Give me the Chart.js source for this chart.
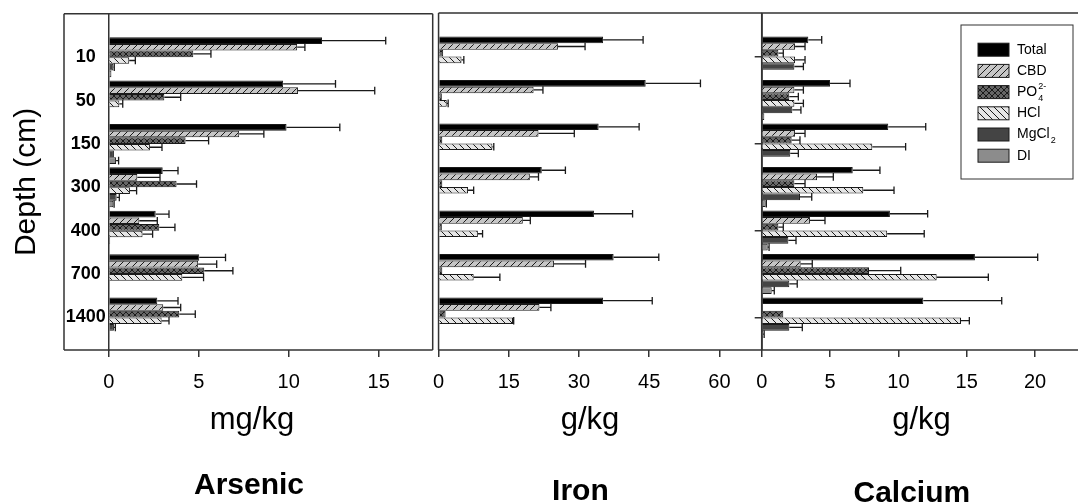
<!DOCTYPE html>
<html lang="en">
<head>
    <meta charset="UTF-8">
    <title>Arsenic, iron and calcium fractions by depth</title>
    <script src="https://cdn.jsdelivr.net/npm/chart.js"></script>
    <style>
        html, body { margin: 0; padding: 0; background: #fff; overflow: hidden; }
        .panels { position: relative; width: 1078px; height: 504px; }
        .panels canvas { position: absolute; top: 0; }
        #arsenicChart { left: 0; }
        #ironChart { left: 420px; }
        #calciumChart { left: 740px; }
    </style>
</head>
<body>
    <div class="panels">
        <canvas id="arsenicChart" width="434" height="504"></canvas>
        <canvas id="ironChart" width="343" height="504"></canvas>
        <canvas id="calciumChart" width="338" height="504"></canvas>
    </div>

    <script>
        const depths = ['10', '50', '150', '300', '400', '700', '1400'];
        const seriesNames = ['Total', 'CBD', 'PO₄²⁻', 'HCl', 'MgCl₂', 'DI'];
        // legend text split as base, subscript, superscript
        const legendParts = [['Total'], ['CBD'], ['PO', '4', '2-'], ['HCl'], ['MgCl', '2'], ['DI']];
        const calciumTickDepths = ['50', '300', '700'];

        // rows follow seriesNames, columns follow depths
        const arsenicMean = [
            [11.85, 9.69, 9.88, 3.0, 2.61, 5.03, 2.7],
            [10.47, 10.52, 7.25, 1.59, 1.7, 4.97, 3.03],
            [4.7, 3.09, 4.27, 3.77, 2.81, 5.31, 3.92],
            [1.14, 0.59, 2.29, 1.18, 1.88, 4.09, 2.94],
            [0.26, 0.05, 0.29, 0.44, 0.08, 0.05, 0.29],
            [0.15, 0.05, 0.41, 0.26, 0.05, 0.05, 0.05]
        ];
        const arsenicErr = [
            [3.54, 2.91, 2.96, 0.85, 0.74, 1.46, 1.15],
            [0.43, 4.26, 1.37, 1.26, 1.0, 1.03, 0.97],
            [0.98, 0.91, 1.28, 1.11, 0.87, 1.59, 0.89],
            [0.34, 0.19, 0.67, 0.37, 0.56, 1.18, 0.41],
            [0.05, 0, 0, 0.15, 0, 0, 0.08],
            [0, 0, 0.14, 0.04, 0, 0, 0]
        ];

        const ironMean = [
            [35.15, 44.25, 34.2, 22.05, 33.2, 37.4, 35.15],
            [25.5, 20.3, 21.35, 19.5, 18.0, 24.65, 21.55],
            [0.98, 0.7, 0.8, 0.8, 0.7, 0.8, 1.5],
            [4.9, 1.75, 11.5, 6.3, 8.4, 7.5, 15.9],
            [0, 0, 0, 0, 0, 0, 0],
            [0, 0, 0, 0, 0, 0, 0]
        ];
        const ironErr = [
            [8.55, 11.7, 8.65, 5.05, 8.25, 9.65, 10.5],
            [5.8, 2.0, 7.65, 1.85, 1.6, 6.75, 2.45],
            [0, 0, 0, 0, 0, 0, 0],
            [0.5, 0.3, 0.3, 1.2, 1.0, 5.6, 0.15],
            [0, 0, 0, 0, 0, 0, 0],
            [0, 0, 0, 0, 0, 0, 0]
        ];

        const calciumMean = [
            [3.41, 5.0, 9.26, 6.66, 9.38, 15.6, 11.82],
            [2.44, 2.39, 2.44, 4.05, 3.53, 2.85, 0],
            [1.22, 2.02, 2.19, 2.39, 1.22, 7.85, 1.58],
            [2.44, 2.39, 8.09, 7.43, 9.18, 12.8, 14.58],
            [2.39, 2.24, 2.09, 2.8, 1.95, 2.02, 2.02],
            [0, 0.19, 0, 0.29, 0.44, 0.73, 0.1]
        ];
        const calciumErr = [
            [0.98, 1.46, 2.74, 1.99, 2.76, 4.59, 5.74],
            [0.73, 0.66, 0.73, 1.19, 1.1, 0.85, 0],
            [0.36, 0.66, 0.61, 0.78, 0.36, 2.32, 0],
            [0.73, 0.66, 2.44, 2.25, 2.71, 3.78, 0.61],
            [0.66, 0.63, 0.59, 0.86, 0.56, 0.58, 0.95],
            [0, 0, 0, 0.05, 0.1, 0.19, 0.08]
        ];

        const FONT = 'Arial, "Liberation Sans", Helvetica, sans-serif';
        const LINE = '#333';

        // small hatch tiles for the patterned bars
        function hatch(bg, kind, size) {
            const c = document.createElement('canvas');
            c.width = c.height = size;
            const g = c.getContext('2d');
            g.fillStyle = bg;
            g.fillRect(0, 0, size, size);
            g.strokeStyle = '#1a1a1a';
            g.lineWidth = 1;
            g.beginPath();
            for (const k of [-size, 0, size]) {
                if (kind !== '\\') { g.moveTo(k, size); g.lineTo(k + size, 0); }
                if (kind !== '/') { g.moveTo(k, 0); g.lineTo(k + size, size); }
            }
            g.stroke();
            return g.createPattern(c, 'repeat');
        }

        const seriesFills = [
            '#000000',
            hatch('#c6c6c6', '/', 7),
            hatch('#666666', 'x', 6),
            hatch('#e6e6e6', '\\', 7),
            '#444444',
            '#8c8c8c'
        ];

        function buildDatasets(means, errs) {
            return means.map((row, s) => ({
                label: seriesNames[s],
                data: row.map((v, i) => ({ x: v, y: i })),
                errors: errs[s],
                backgroundColor: seriesFills[s],
                borderColor: '#1a1a1a',
                borderWidth: 1,
                categoryPercentage: 0.92,
                barPercentage: 1
            }));
        }

        const errorBars = {
            id: 'errorBars',
            afterDatasetsDraw(chart) {
                const { ctx } = chart;
                const xs = chart.scales.x;
                ctx.save();
                ctx.strokeStyle = '#1a1a1a';
                ctx.lineWidth = 1.3;
                chart.data.datasets.forEach((ds, d) => {
                    chart.getDatasetMeta(d).data.forEach((bar, i) => {
                        const e = ds.errors[i];
                        if (!e) return;
                        const end = xs.getPixelForValue(ds.data[i].x + e);
                        const half = bar.height / 2 + 0.5;
                        ctx.beginPath();
                        ctx.moveTo(bar.x, bar.y);
                        ctx.lineTo(end, bar.y);
                        ctx.moveTo(end, bar.y - half);
                        ctx.lineTo(end, bar.y + half);
                        ctx.stroke();
                    });
                });
                ctx.restore();
            }
        };

        const frame = {
            id: 'frame',
            beforeDatasetsDraw(chart, args, opts) {
                const { ctx, chartArea: a } = chart;
                const left = a.left - (opts.gutter || 0);
                ctx.save();
                ctx.strokeStyle = LINE;
                ctx.lineWidth = 1.5;
                ctx.beginPath();
                ctx.moveTo(left, a.top); ctx.lineTo(a.right, a.top);
                ctx.moveTo(left, a.bottom); ctx.lineTo(a.right, a.bottom);
                ctx.moveTo(left, a.top); ctx.lineTo(left, a.bottom);
                if (!opts.openRight) { ctx.moveTo(a.right, a.top); ctx.lineTo(a.right, a.bottom); }
                ctx.stroke();
                ctx.restore();
            }
        };

        const captions = {
            id: 'captions',
            afterDraw(chart, args, o) {
                const { ctx, chartArea: a } = chart;
                const mid = (a.left + a.right) / 2;
                ctx.save();
                ctx.fillStyle = '#000';
                ctx.textAlign = 'center';
                ctx.textBaseline = 'alphabetic';
                ctx.font = '31px ' + FONT;
                ctx.fillText(o.unit, mid + o.unitShift, a.bottom + 79);
                ctx.font = 'bold 30px ' + FONT;
                ctx.fillText(o.name, mid + o.nameShift, a.bottom + o.nameDrop);
                ctx.restore();
            }
        };

        const boxLegend = {
            id: 'boxLegend',
            afterDraw(chart) {
                const { ctx, chartArea: a } = chart;
                const w = 112, h = 154;
                const x0 = a.right - 5 - w, y0 = a.top + 12;
                ctx.save();
                ctx.fillStyle = '#fff';
                ctx.fillRect(x0, y0, w, h);
                ctx.strokeStyle = LINE;
                ctx.lineWidth = 1;
                ctx.strokeRect(x0, y0, w, h);
                chart.data.datasets.forEach((ds, i) => {
                    const cy = y0 + 24.7 + i * 21.2;
                    ctx.fillStyle = ds.backgroundColor;
                    ctx.fillRect(x0 + 17, cy - 6.5, 31, 13);
                    ctx.strokeStyle = '#1a1a1a';
                    ctx.strokeRect(x0 + 17, cy - 6.5, 31, 13);
                    const [base, sub, sup] = legendParts[i];
                    const tx = x0 + 56;
                    ctx.fillStyle = '#000';
                    ctx.textBaseline = 'middle';
                    ctx.font = '14px ' + FONT;
                    ctx.fillText(base, tx, cy);
                    const bw = ctx.measureText(base).width;
                    ctx.font = '9px ' + FONT;
                    if (sub) ctx.fillText(sub, tx + bw + 1, cy + 6);
                    if (sup) ctx.fillText(sup, tx + bw + 1, cy - 6);
                });
                ctx.restore();
            }
        };

        function depthAxis(extra) {
            return Object.assign({
                type: 'linear',
                reverse: true,
                offset: false,
                min: -1,
                max: 6.75,
                display: false,
                afterBuildTicks: s => { s.ticks = depths.map((d, i) => ({ value: i })); }
            }, extra);
        }

        function valueAxis(max, step) {
            return {
                type: 'linear',
                min: 0,
                max: max,
                ticks: {
                    stepSize: step,
                    includeBounds: false,
                    font: { family: FONT, size: 20 },
                    color: '#000',
                    padding: 13
                },
                grid: { drawOnChartArea: false, tickLength: 7, color: LINE, lineWidth: 1.5 },
                border: { display: false }
            };
        }

        function panelOptions(xAxis, yAxis, padding, plugins) {
            return {
                responsive: false,
                animation: false,
                indexAxis: 'y',
                layout: { padding: padding },
                scales: { x: xAxis, y: yAxis },
                plugins: Object.assign({
                    legend: { display: false },
                    tooltip: { enabled: false }
                }, plugins)
            };
        }

        new Chart(document.getElementById('arsenicChart'), {
            type: 'bar',
            data: { datasets: buildDatasets(arsenicMean, arsenicErr) },
            plugins: [frame, errorBars, captions],
            options: panelOptions(
                valueAxis(18, 5),
                depthAxis({
                    display: true,
                    afterFit: s => { s.width = 108.7; },
                    grid: { display: false, drawTicks: false },
                    border: { display: true, color: LINE, width: 1.5 },
                    ticks: {
                        callback: (v, i) => depths[i],
                        font: { family: FONT, size: 18, weight: 'bold' },
                        color: '#000',
                        crossAlign: 'center',
                        padding: 3
                    },
                    title: {
                        display: true,
                        text: 'Depth (cm)',
                        font: { family: FONT, size: 30 },
                        color: '#000',
                        padding: { top: 8.6, bottom: 0 }
                    }
                }),
                { left: 0, right: 1.3, top: 13, bottom: 97 },
                {
                    frame: { gutter: 44.7 },
                    captions: { unit: 'mg/kg', name: 'Arsenic', unitShift: -18.7, nameShift: -21.7, nameDrop: 144 }
                }
            )
        });

        new Chart(document.getElementById('ironChart'), {
            type: 'bar',
            data: { datasets: buildDatasets(ironMean, ironErr) },
            plugins: [frame, errorBars, captions],
            options: panelOptions(
                valueAxis(69.1, 15),
                depthAxis({}),
                { left: 12.7, right: 1, top: 13, bottom: 97 },
                {
                    frame: {},
                    captions: { unit: 'g/kg', name: 'Iron', unitShift: -10.3, nameShift: -19.9, nameDrop: 149.5 }
                }
            )
        });

        new Chart(document.getElementById('calciumChart'), {
            type: 'bar',
            data: { datasets: buildDatasets(calciumMean, calciumErr) },
            plugins: [frame, errorBars, captions, boxLegend],
            options: panelOptions(
                valueAxis(23.14, 5),
                depthAxis({
                    display: true,
                    afterBuildTicks: s => { s.ticks = calciumTickDepths.map(d => ({ value: depths.indexOf(d) })); },
                    afterFit: s => { s.width = 7; },
                    grid: { drawOnChartArea: false, tickLength: 7, color: LINE, lineWidth: 1.5 },
                    border: { display: false },
                    ticks: { display: false }
                }),
                { left: 14.7, right: 0, top: 13, bottom: 97 },
                {
                    frame: { openRight: true },
                    captions: { unit: 'g/kg', name: 'Calcium', unitShift: 1.7, nameShift: -8, nameDrop: 151.5 }
                }
            )
        });
    </script>
</body>
</html>
